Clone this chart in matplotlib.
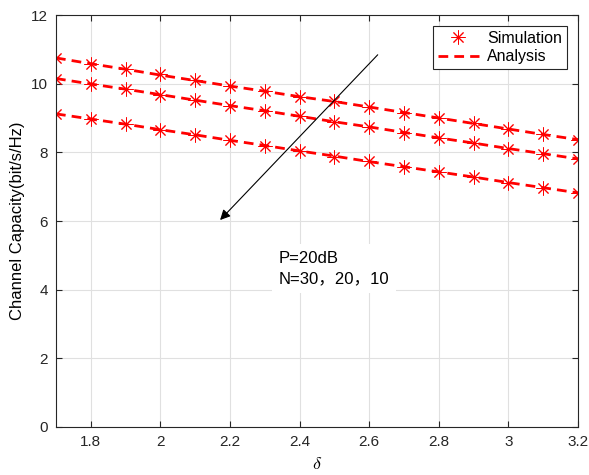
import numpy as np
import matplotlib.pyplot as plt

plt.rcParams['font.family'] = ['Liberation Sans', 'DejaVu Sans']
plt.rcParams['mathtext.fontset'] = 'cm'

delta = np.round(np.arange(1.7, 3.21, 0.1), 2)

# analysis curves, N = 30, 20, 10
ana_30 = [10.75, 10.58, 10.42, 10.25, 10.09, 9.93, 9.78, 9.62, 9.48, 9.32, 9.16, 9.00, 8.84, 8.68, 8.52, 8.37]
ana_20 = [10.15, 9.99, 9.84, 9.68, 9.52, 9.36, 9.21, 9.05, 8.89, 8.74, 8.58, 8.42, 8.27, 8.11, 7.96, 7.81]
ana_10 = [9.12, 8.97, 8.82, 8.66, 8.51, 8.35, 8.20, 8.04, 7.89, 7.73, 7.58, 7.43, 7.28, 7.12, 6.97, 6.82]

# simulation points
sim_30 = [10.76, 10.57, 10.43, 10.27, 10.10, 9.93, 9.79, 9.61, 9.50, 9.31, 9.15, 9.01, 8.85, 8.68, 8.53, 8.36]
sim_20 = [10.14, 9.99, 9.84, 9.67, 9.51, 9.35, 9.20, 9.05, 8.88, 8.73, 8.56, 8.42, 8.27, 8.10, 7.95, 7.80]
sim_10 = [9.13, 8.97, 8.83, 8.64, 8.50, 8.35, 8.19, 8.04, 7.86, 7.74, 7.57, 7.43, 7.29, 7.11, 6.96, 6.82]

fig = plt.figure(figsize=(5.89, 4.75), dpi=100)
ax = fig.add_axes([56/589, 48/475, 522/589, 412/475])

star = (8, 2, 0)
for i, (a, s) in enumerate([(ana_30, sim_30), (ana_20, sim_20), (ana_10, sim_10)]):
    ax.plot(delta, s, linestyle='none', marker=star, markersize=10, markeredgewidth=0.7,
            color='red', label='Simulation' if i == 0 else None)
    ax.plot(delta, a, '--', color='red', linewidth=2, dashes=(3.5, 2.2),
            label='Analysis' if i == 0 else None)

ax.annotate('', xy=(2.166, 5.97), xytext=(2.63, 10.9),
            arrowprops=dict(arrowstyle='-|>', color='black', lw=0.8, mutation_scale=15))
ax.text(2.34, 4.62, 'P=20dB\nN=30，20，10', fontsize=12, va='center', ha='left',
        family=['Liberation Sans', 'Noto Sans CJK SC'], linespacing=1.45,
        bbox=dict(facecolor='white', edgecolor='none', pad=5))

ax.set_xlim(1.7, 3.2)
ax.set_ylim(0, 12)
ax.set_xticks([1.8, 2.0, 2.2, 2.4, 2.6, 2.8, 3.0, 3.2])
ax.set_xticklabels(['1.8', '2', '2.2', '2.4', '2.6', '2.8', '3', '3.2'])
ax.set_yticks(range(0, 13, 2))
ax.grid(True, color='#e0e0e0', linewidth=0.8)
ax.set_axisbelow(True)
ax.tick_params(direction='in', labelsize=11, top=True, right=True, length=4, colors='#262626', pad=6)
for sp in ax.spines.values():
    sp.set_color('#262626')
    sp.set_linewidth(0.8)
ax.set_xlabel(r'$\delta$', fontsize=13, labelpad=5)
ax.set_ylabel('Channel Capacity(bit/s/Hz)', fontsize=12)

leg = ax.legend(loc='upper right', fontsize=11.5, fancybox=False, framealpha=1,
                edgecolor='#262626', borderaxespad=0.7, handlelength=2.6, borderpad=0.3,
                labelspacing=0.2, handletextpad=0.5)
leg.get_frame().set_linewidth(0.8)

fig.savefig('out.png', dpi=100)
